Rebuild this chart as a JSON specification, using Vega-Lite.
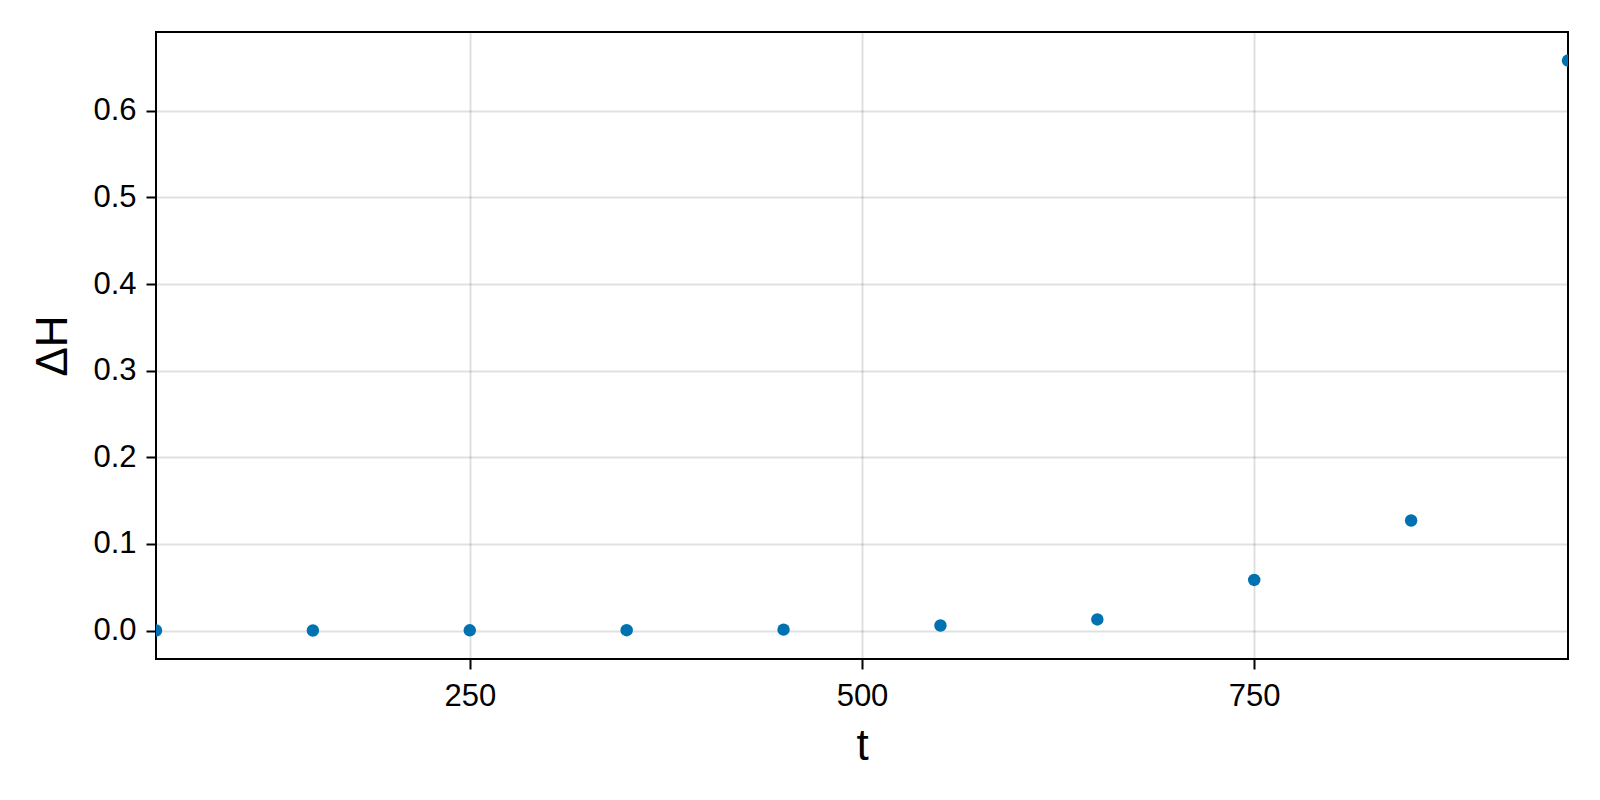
{
  "$schema": "https://vega.github.io/schema/vega-lite/v6.json",
  "width": 1412,
  "height": 627,
  "autosize": "none",
  "padding": {"left": 156, "top": 32, "right": 32, "bottom": 141},
  "background": "white",
  "data": {
    "values": [
      {"t": 50, "dH": 0.0},
      {"t": 150, "dH": 0.0},
      {"t": 250, "dH": 0.0002},
      {"t": 350, "dH": 0.0004},
      {"t": 450, "dH": 0.001},
      {"t": 550, "dH": 0.0058},
      {"t": 650, "dH": 0.0128},
      {"t": 750, "dH": 0.0584},
      {"t": 850, "dH": 0.127},
      {"t": 950, "dH": 0.658}
    ]
  },
  "config": {
    "view": {"stroke": "black", "strokeWidth": 2},
    "font": "Liberation Sans",
    "axis": {
      "domain": false,
      "grid": true,
      "gridColor": "#000000",
      "gridOpacity": 0.12,
      "gridWidth": 2,
      "ticks": true,
      "tickColor": "black",
      "tickSize": 10,
      "tickWidth": 2,
      "labelFont": "Liberation Sans",
      "labelFontSize": 31,
      "labelColor": "black",
      "titleFont": "Liberation Sans",
      "titleFontSize": 44,
      "titleFontWeight": "normal",
      "titleColor": "black"
    }
  },
  "mark": {"type": "circle", "size": 155, "opacity": 1, "color": "#0072B2", "clip": true},
  "encoding": {
    "x": {
      "field": "t",
      "type": "quantitative",
      "title": "t",
      "scale": {"domain": [50, 950], "nice": false, "zero": false},
      "axis": {"values": [250, 500, 750], "labelPadding": 12, "titlePadding": 13, "labelFlush": false}
    },
    "y": {
      "field": "dH",
      "type": "quantitative",
      "title": "ΔH",
      "scale": {"domain": [-0.0329, 0.691], "nice": false, "zero": false},
      "axis": {"values": [0, 0.1, 0.2, 0.3, 0.4, 0.5, 0.6], "format": ".1f", "labelPadding": 10, "titlePadding": 17, "labelFlush": false}
    }
  }
}
